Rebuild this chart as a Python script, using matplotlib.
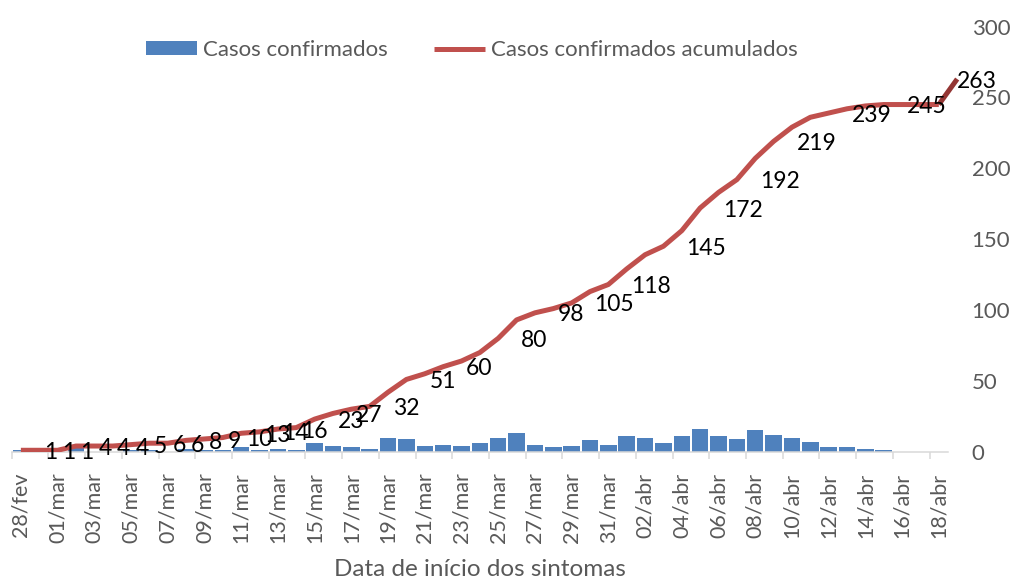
import numpy as np
import matplotlib
matplotlib.use("Agg")
import matplotlib.pyplot as plt

plt.rcParams['font.family'] = ['Lato', 'DejaVu Sans']

# categorias: um dia por barra, de 28/fev a 18/abr
DIAS = ["28/fev", "29/fev"] + [f"{d:02d}/mar" for d in range(1, 32)] + [f"{d:02d}/abr" for d in range(1, 19)]

# casos confirmados por data de inicio dos sintomas
CASOS = [1, 0, 0, 3, 0, 0, 1, 1, 0, 2, 1, 1, 3, 1, 2,
         1, 6, 4, 3, 2,
         10, 9, 4, 5, 4, 6, 10, 13, 5, 3,
         4, 8, 5, 11, 10, 6, 11, 16, 11, 9,
         15, 12, 10, 7, 3, 3, 2, 1, 0, 0, 0]
# ultimo ponto da curva acumulada (inclui casos sem data)
ACUMULADO_FINAL = 263
# pontos da curva que recebem rotulo
ROTULOS_IDX = list(range(15)) + [16, 17, 19, 21, 23, 26, 28, 30, 32, 35, 37, 39, 41, 44, 47]

COR_BARRA = "#4F81BD"
COR_LINHA = "#C0504D"
COR_FINAL = "#943634"
CINZA = "#595959"

acumulado = np.cumsum(CASOS)
x = np.arange(len(DIAS))

fig = plt.figure(figsize=(10.11, 5.81), dpi=100)
ax = fig.add_axes([11.7 / 1011, 1 - 451.7 / 581, (948 - 11.7) / 1011, (451.7 - 26.6) / 581])

barras = ax.bar(x, CASOS, width=0.9, color=COR_BARRA, label="Casos confirmados", zorder=2)
linha, = ax.plot(x, acumulado, color=COR_LINHA, lw=3.6, solid_capstyle="butt",
                 label="Casos confirmados acumulados", zorder=3)
ax.plot([x[-1], x[-1] + 1], [acumulado[-1], ACUMULADO_FINAL], color=COR_FINAL, lw=3.6,
        solid_capstyle="butt", clip_on=False, zorder=3)

for i in ROTULOS_IDX:
    ax.annotate(str(acumulado[i]), (x[i], acumulado[i]), xytext=(16.5, -1.5),
                textcoords="offset points", ha="left", va="center",
                fontsize=16.5, color="black", zorder=4, annotation_clip=False)
ax.annotate(str(ACUMULADO_FINAL), (x[-1] + 1, ACUMULADO_FINAL), xytext=(0, -1.5),
            textcoords="offset points", ha="left", va="center",
            fontsize=16.5, color="black", zorder=4, annotation_clip=False)

ax.set_xlim(-0.5, len(DIAS) - 0.5)
ax.set_ylim(0, 300)

# eixo x: marcas entre as categorias, rotulos a cada 2 dias
ax.set_xticks(np.arange(-0.5, len(DIAS) - 1, 2))
ax.set_xticklabels([])
ax.set_xticks(x[::2], minor=True)
ax.set_xticklabels(DIAS[::2], minor=True, rotation=90, fontsize=15.5, color=CINZA)
ax.tick_params(axis="x", which="major", length=5, width=1.1, color="#D9D9D9")
ax.tick_params(axis="x", which="minor", length=0, pad=15)

ax.yaxis.tick_right()
ax.set_yticks(np.arange(0, 301, 50))
ax.tick_params(axis="y", length=0, pad=17, labelsize=16, labelcolor=CINZA)

for s in ["top", "left", "right"]:
    ax.spines[s].set_visible(False)
ax.spines["bottom"].set_color("#D9D9D9")
ax.spines["bottom"].set_linewidth(1.1)

fig.text(480 / 1011, 1 - 570 / 581, "Data de início dos sintomas", ha="center", va="center",
         fontsize=17.5, color=CINZA)

fig.legend(handles=[barras, linha], loc="center", bbox_to_anchor=(472 / 1011, 1 - 50 / 581),
           ncol=2, frameon=False, fontsize=16, labelcolor=CINZA, handlelength=2.3,
           handleheight=0.55, handletextpad=0.25, columnspacing=2.1)

fig.savefig("out.png", dpi=100)
